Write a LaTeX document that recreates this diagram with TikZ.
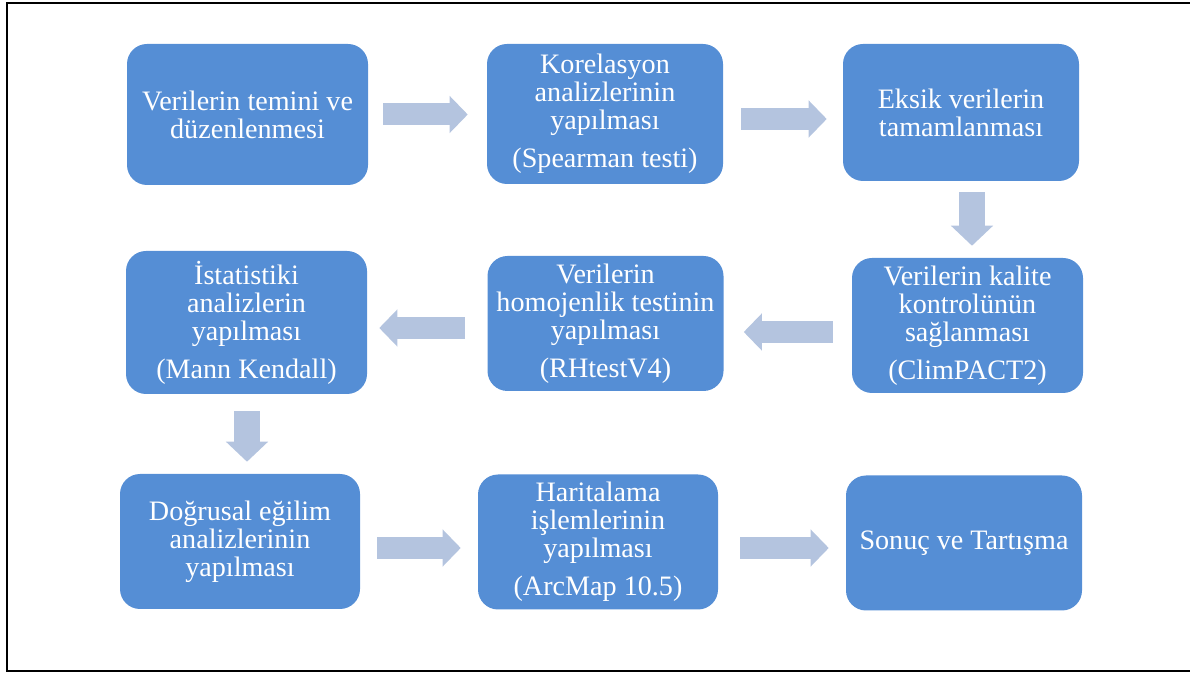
\documentclass[tikz,border=0pt]{standalone}
\usepackage{fontspec}
\setmainfont{Liberation Serif}
\usetikzlibrary{arrows.meta,calc}
\definecolor{BoxBlue}{RGB}{85,142,213}
\definecolor{ArrowBlue}{RGB}{180,196,223}

\begin{document}
\begin{tikzpicture}[
x=0.75pt,y=-0.75pt,
box/.style={rectangle,rounded corners=15pt,fill=BoxBlue,text=white,
minimum width=177pt,minimum height=101.25pt,align=center,inner sep=0pt,
font=\fontsize{21.1}{21}\selectfont},
flow/.style={-{Triangle[length=13.5pt,width=27pt]},line width=16.5pt,draw=ArrowBlue},
flowdown/.style={-{Triangle[length=15pt,width=30.75pt]},line width=19pt,draw=ArrowBlue}
]
\useasboundingbox (0,0) rectangle (1190,673);
\draw[line width=1.1pt] (1192,3) -- (7,3) -- (7,671) -- (1192,671);

% first row
\node[box,minimum width=180.75pt,minimum height=105.75pt] (b1) at (247.5,114.5) {Verilerin temini ve\\düzenlenmesi};
\node[box,minimum height=105pt] (b2) at (605,114) {Korelasyon\\analizlerinin\\yapılması\\[7.5pt](Spearman testi)};
\node[box,minimum height=102.75pt] (b3) at (961,112.5) {Eksik verilerin\\tamamlanması};
% second row
\node[box,minimum width=180.75pt,minimum height=107.25pt] (b4) at (246.5,322.5) {İstatistiki\\analizlerin\\yapılması\\[7.5pt](Mann Kendall)};
\node[box] (b5) at (605.5,323.5) {Verilerin\\homojenlik testinin\\yapılması\\[7.5pt](RHtestV4)};
\node[box,minimum width=173.25pt] (b6) at (967.5,325.5) {Verilerin kalite\\kontrolünün\\sağlanması\\[7.5pt](ClimPACT2)};
% third row
\node[box,minimum width=180pt] (b7) at (240,541.5) {Doğrusal eğilim\\analizlerinin\\yapılması};
\node[box,minimum width=180pt] (b8) at (598,542) {Haritalama\\işlemlerinin\\yapılması\\[7.5pt](ArcMap 10.5)};
\node[box] (b9) at (964,543) {Sonuç ve Tartışma};

\draw[flow] ($(b1.east)+(15,0)$) -- ($(b1.east -| b2.west)+(-19,0)$);
\draw[flow] ($(b2.east)+(18,5)$) -- ($(b2.east -| b3.west)+(-16,5)$);
\draw[flowdown] ($(b3.south)+(11,11)$) -- ($(b3.south |- b6.north)+(11,-12)$);
\draw[flow] ($(b6.west)+(-19,6.5)$) -- ($(b6.west -| b5.east)+(20,6.5)$);
\draw[flow] ($(b5.west)+(-22,4.5)$) -- ($(b5.west -| b4.east)+(12,4.5)$);
\draw[flowdown] ($(b4.south)+(0.5,17)$) -- ($(b4.south |- b7.north)+(0.5,-12)$);
\draw[flow] ($(b7.east)+(17,6.5)$) -- ($(b7.east -| b8.west)+(-17,6.5)$);
\draw[flow] ($(b8.east)+(22,6)$) -- ($(b8.east -| b9.west)+(-17,6)$);
\end{tikzpicture}
\end{document}
